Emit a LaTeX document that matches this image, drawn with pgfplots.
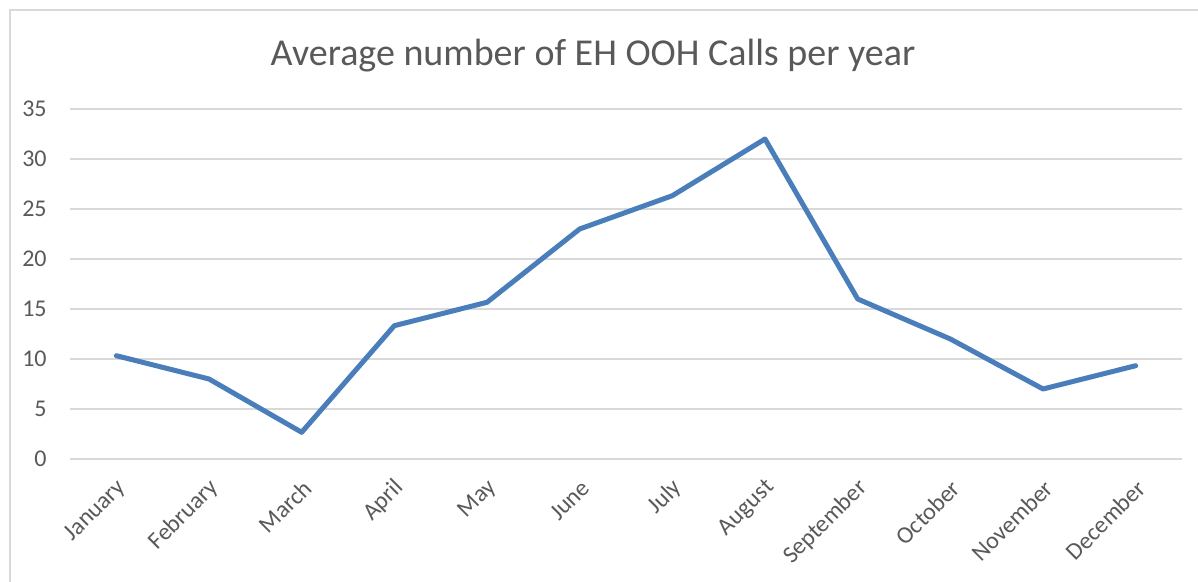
\documentclass[border=0pt]{standalone}
\usepackage{fontspec}
\setmainfont{Carlito}
\usepackage{pgfplots}
\pgfplotsset{compat=1.18}
\definecolor{txtgray}{HTML}{595959}
\definecolor{gridgray}{HTML}{D9D9D9}
\definecolor{lineblue}{HTML}{4A7EBB}
\begin{document}
\begin{tikzpicture}
\useasboundingbox (0,0) rectangle (599pt,291pt);
\draw[gridgray, line width=1pt] (5pt,0pt) -- (5pt,286pt) -- (599pt,286pt);
\node[txtgray, font=\fontsize{19}{23}\selectfont] at (296.5pt,263pt) {Average number of EH OOH Calls per year};
\begin{axis}[
  at={(35pt,61.5pt)}, anchor=south west,
  scale only axis, width=556pt, height=175pt,
  xmin=-0.5, xmax=11.5, ymin=0, ymax=35,
  ytick={0,5,...,35},
  xtick={0,...,11},
  xticklabels={January,February,March,April,May,June,July,August,September,October,November,December},
  axis line style={draw=none},
  major tick length=0pt,
  ymajorgrids, grid style={gridgray, line width=1pt},
  tick label style={txtgray, font=\fontsize{12}{14}\selectfont},
  yticklabel style={inner sep=0pt, xshift=-11.5pt},
  xticklabel style={inner sep=0pt, xshift=3pt, yshift=-12.5pt, rotate=45, anchor=east},
  /pgf/number format/assume math mode=true,
  clip=false,
]
\addplot[lineblue, line width=2.5pt, line join=round, line cap=round] coordinates {
  (0,10.33) (1,8) (2,2.67) (3,13.33) (4,15.67) (5,23) (6,26.33) (7,32) (8,16) (9,12) (10,7) (11,9.33)
};
\end{axis}
\end{tikzpicture}
\end{document}
